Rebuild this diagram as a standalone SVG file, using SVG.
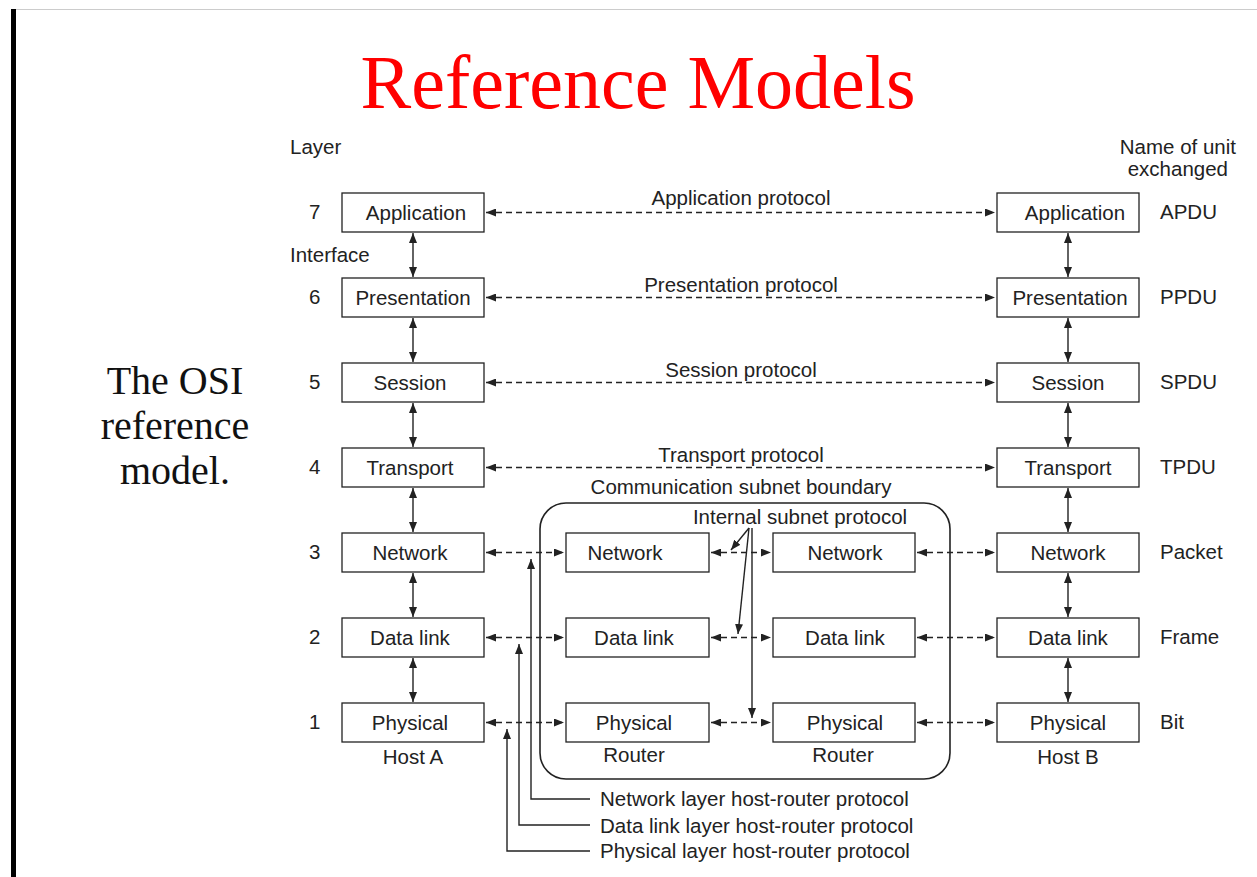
<svg xmlns="http://www.w3.org/2000/svg" width="1257" height="877" viewBox="0 0 1257 877">
<style>
.box{fill:#fff;stroke:#222;stroke-width:1.3}
.t{font-family:"Liberation Sans",Arial,sans-serif;font-size:20.5px;fill:#222}
.m{text-anchor:middle}
.ln{stroke:#222;stroke-width:1.4;fill:none}
.d{stroke:#222;stroke-width:1.3;fill:none;stroke-dasharray:6 4}
</style>
<defs>
<marker id="ah" viewBox="0 0 10 8" refX="10" refY="4" markerWidth="10" markerHeight="8" markerUnits="userSpaceOnUse" orient="auto-start-reverse">
<path d="M0,0 L10,4 L0,8 z" fill="#222"/>
</marker>
</defs>
<rect width="1257" height="877" fill="#fff"/>
<line x1="11" y1="9.5" x2="1257" y2="9.5" stroke="#ccc" stroke-width="1"/>
<rect x="11" y="9" width="5" height="868" fill="#000"/>
<text x="638" y="108" text-anchor="middle" font-family="'Liberation Serif','Times New Roman',serif" font-size="76" fill="#f00">Reference Models</text>
<g font-family="'Liberation Serif','Times New Roman',serif" font-size="40" fill="#111" text-anchor="middle">
<text x="175" y="394">The OSI</text>
<text x="175" y="439">reference</text>
<text x="175" y="484">model.</text>
</g>
<g id="labels" class="t">
<text x="290" y="154">Layer</text>
<text x="290" y="262">Interface</text>
<text x="1236" y="154" text-anchor="end">Name of unit</text>
<text x="1228" y="176" text-anchor="end">exchanged</text>
<text x="309" y="219">7</text><text x="309" y="304">6</text><text x="309" y="389">5</text><text x="309" y="474">4</text><text x="309" y="559">3</text><text x="309" y="644">2</text><text x="309" y="729">1</text>
<text x="1160" y="219">APDU</text><text x="1160" y="304">PPDU</text><text x="1160" y="389">SPDU</text><text x="1160" y="474">TPDU</text><text x="1160" y="559">Packet</text><text x="1160" y="644">Frame</text><text x="1160" y="729">Bit</text>
<text class="m" x="741" y="205">Application protocol</text>
<text class="m" x="741" y="292">Presentation protocol</text>
<text class="m" x="741" y="377">Session protocol</text>
<text class="m" x="741" y="462">Transport protocol</text>
<text class="m" x="741" y="494">Communication subnet boundary</text>
<text class="m" x="800" y="524">Internal subnet protocol</text>
<text class="m" x="413" y="764">Host A</text>
<text class="m" x="634" y="762">Router</text>
<text class="m" x="843" y="762">Router</text>
<text class="m" x="1068" y="764">Host B</text>
<text x="600" y="806">Network layer host-router protocol</text>
<text x="600" y="833">Data link layer host-router protocol</text>
<text x="600" y="858">Physical layer host-router protocol</text>
</g>
<g id="subnet"><rect x="540" y="503" width="410" height="276" rx="26" fill="none" stroke="#222" stroke-width="1.6"/></g>
<g id="hostA">
<rect class="box" x="342" y="193" width="142" height="39"/><text class="t m" x="416" y="220">Application</text>
<rect class="box" x="342" y="278" width="142" height="39"/><text class="t m" x="413" y="305">Presentation</text>
<rect class="box" x="342" y="363" width="142" height="39"/><text class="t m" x="410" y="390">Session</text>
<rect class="box" x="342" y="448" width="142" height="39"/><text class="t m" x="410" y="475">Transport</text>
<rect class="box" x="342" y="533" width="142" height="39"/><text class="t m" x="410" y="560">Network</text>
<rect class="box" x="342" y="618" width="142" height="39"/><text class="t m" x="410" y="645">Data link</text>
<rect class="box" x="342" y="703" width="142" height="39"/><text class="t m" x="410" y="730">Physical</text>
</g>
<g id="router1">
<rect class="box" x="566" y="533" width="143" height="39"/><text class="t m" x="625" y="560">Network</text>
<rect class="box" x="566" y="618" width="143" height="39"/><text class="t m" x="634" y="645">Data link</text>
<rect class="box" x="566" y="703" width="143" height="39"/><text class="t m" x="634" y="730">Physical</text>
</g>
<g id="router2">
<rect class="box" x="773" y="533" width="142" height="39"/><text class="t m" x="845" y="560">Network</text>
<rect class="box" x="773" y="618" width="142" height="39"/><text class="t m" x="845" y="645">Data link</text>
<rect class="box" x="773" y="703" width="142" height="39"/><text class="t m" x="845" y="730">Physical</text>
</g>
<g id="hostB">
<rect class="box" x="997" y="193" width="142" height="39"/><text class="t m" x="1075" y="220">Application</text>
<rect class="box" x="997" y="278" width="142" height="39"/><text class="t m" x="1070" y="305">Presentation</text>
<rect class="box" x="997" y="363" width="142" height="39"/><text class="t m" x="1068" y="390">Session</text>
<rect class="box" x="997" y="448" width="142" height="39"/><text class="t m" x="1068" y="475">Transport</text>
<rect class="box" x="997" y="533" width="142" height="39"/><text class="t m" x="1068" y="560">Network</text>
<rect class="box" x="997" y="618" width="142" height="39"/><text class="t m" x="1068" y="645">Data link</text>
<rect class="box" x="997" y="703" width="142" height="39"/><text class="t m" x="1068" y="730">Physical</text>
</g>
<g id="connectors">
<line class="ln" x1="413" y1="233" x2="413" y2="277" marker-start="url(#ah)" marker-end="url(#ah)"/>
<line class="ln" x1="413" y1="318" x2="413" y2="362" marker-start="url(#ah)" marker-end="url(#ah)"/>
<line class="ln" x1="413" y1="403" x2="413" y2="447" marker-start="url(#ah)" marker-end="url(#ah)"/>
<line class="ln" x1="413" y1="488" x2="413" y2="532" marker-start="url(#ah)" marker-end="url(#ah)"/>
<line class="ln" x1="413" y1="573" x2="413" y2="617" marker-start="url(#ah)" marker-end="url(#ah)"/>
<line class="ln" x1="413" y1="658" x2="413" y2="702" marker-start="url(#ah)" marker-end="url(#ah)"/>
<line class="ln" x1="1068" y1="233" x2="1068" y2="277" marker-start="url(#ah)" marker-end="url(#ah)"/>
<line class="ln" x1="1068" y1="318" x2="1068" y2="362" marker-start="url(#ah)" marker-end="url(#ah)"/>
<line class="ln" x1="1068" y1="403" x2="1068" y2="447" marker-start="url(#ah)" marker-end="url(#ah)"/>
<line class="ln" x1="1068" y1="488" x2="1068" y2="532" marker-start="url(#ah)" marker-end="url(#ah)"/>
<line class="ln" x1="1068" y1="573" x2="1068" y2="617" marker-start="url(#ah)" marker-end="url(#ah)"/>
<line class="ln" x1="1068" y1="658" x2="1068" y2="702" marker-start="url(#ah)" marker-end="url(#ah)"/>
<line class="d" x1="486" y1="212.5" x2="995" y2="212.5" marker-start="url(#ah)" marker-end="url(#ah)"/>
<line class="d" x1="486" y1="297.5" x2="995" y2="297.5" marker-start="url(#ah)" marker-end="url(#ah)"/>
<line class="d" x1="486" y1="382.5" x2="995" y2="382.5" marker-start="url(#ah)" marker-end="url(#ah)"/>
<line class="d" x1="486" y1="467.5" x2="995" y2="467.5" marker-start="url(#ah)" marker-end="url(#ah)"/>
<line class="d" x1="486" y1="552.5" x2="564" y2="552.5" marker-start="url(#ah)" marker-end="url(#ah)"/>
<line class="d" x1="486" y1="637.5" x2="564" y2="637.5" marker-start="url(#ah)" marker-end="url(#ah)"/>
<line class="d" x1="486" y1="722.5" x2="564" y2="722.5" marker-start="url(#ah)" marker-end="url(#ah)"/>
<line class="d" x1="711" y1="552.5" x2="771" y2="552.5" marker-start="url(#ah)" marker-end="url(#ah)"/>
<line class="d" x1="711" y1="637.5" x2="771" y2="637.5" marker-start="url(#ah)" marker-end="url(#ah)"/>
<line class="d" x1="711" y1="722.5" x2="771" y2="722.5" marker-start="url(#ah)" marker-end="url(#ah)"/>
<line class="d" x1="917" y1="552.5" x2="995" y2="552.5" marker-start="url(#ah)" marker-end="url(#ah)"/>
<line class="d" x1="917" y1="637.5" x2="995" y2="637.5" marker-start="url(#ah)" marker-end="url(#ah)"/>
<line class="d" x1="917" y1="722.5" x2="995" y2="722.5" marker-start="url(#ah)" marker-end="url(#ah)"/>
<polyline class="ln" points="590,799 531,799 531,559" marker-end="url(#ah)"/>
<polyline class="ln" points="590,825 519,825 519,644" marker-end="url(#ah)"/>
<polyline class="ln" points="590,851 507,851 507,729" marker-end="url(#ah)"/>
<line class="ln" x1="749" y1="528" x2="731" y2="550" marker-end="url(#ah)"/>
<line class="ln" x1="749" y1="528" x2="738" y2="634" marker-end="url(#ah)"/>
<line class="ln" x1="752" y1="528" x2="752" y2="718" marker-end="url(#ah)"/>
</g>
</svg>
